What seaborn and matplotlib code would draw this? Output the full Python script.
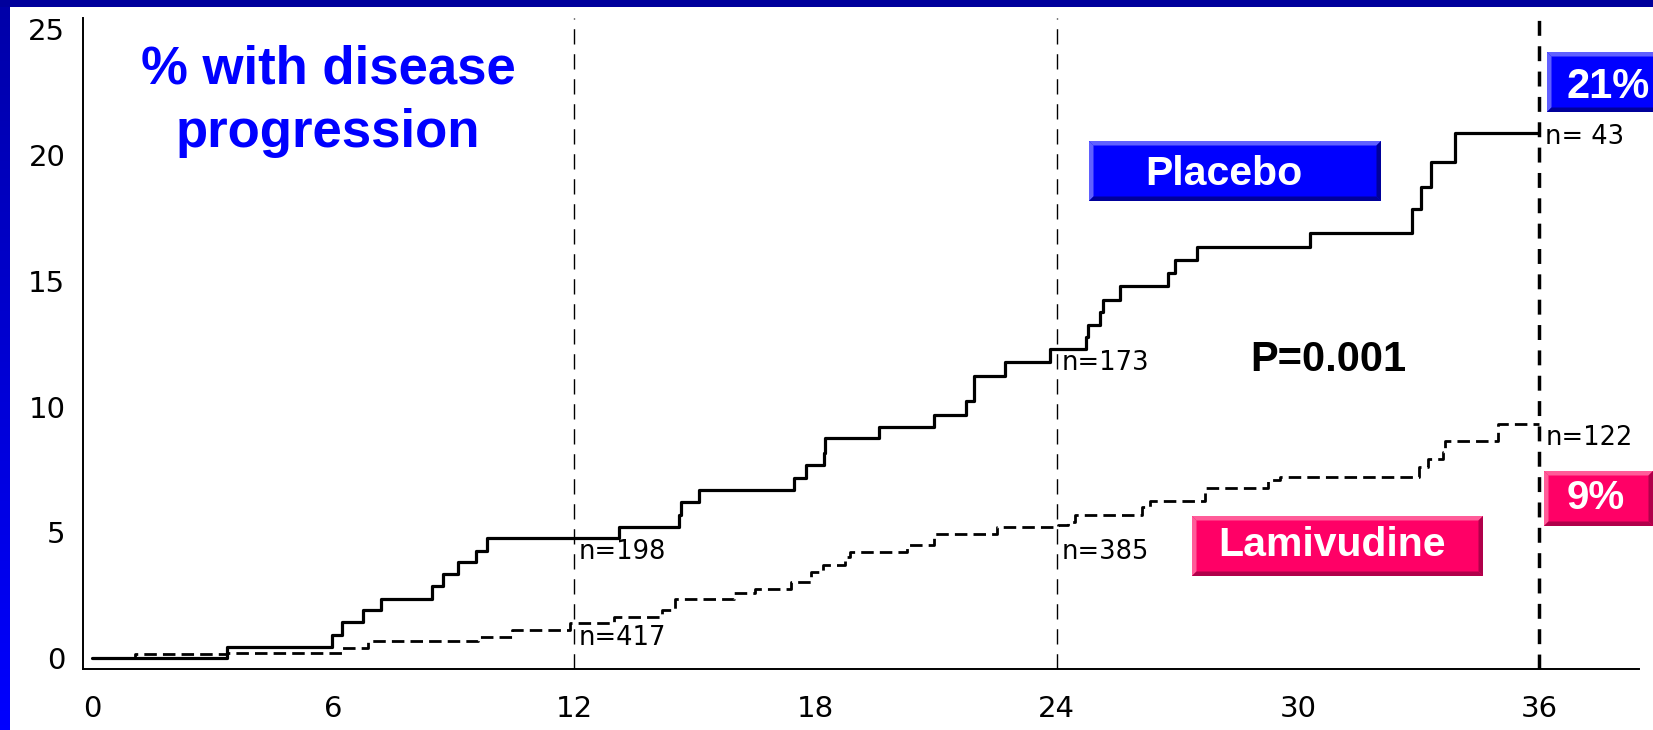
import numpy as np
import pandas as pd
import matplotlib
matplotlib.use("Agg")
import matplotlib.pyplot as plt
import seaborn as sns
from matplotlib.patches import Rectangle, Polygon
from matplotlib.colors import LinearSegmentedColormap

# ---------------- data ----------------
placebo_months = [0, 3.35, 5.96, 6.21, 6.75, 7.2, 8.47, 8.72, 9.1, 9.55, 9.83, 13.1,
                  14.6, 14.65, 15.09, 17.47, 17.76, 18.2, 18.24, 19.58, 20.94, 21.75,
                  21.93, 22.72, 23.83, 24.72, 24.78, 25.08, 25.15, 25.57, 26.77, 26.94,
                  27.48, 30.3, 32.83, 33.07, 33.3, 33.9, 36]
placebo_pct = [0, 0.45, 0.93, 1.42, 1.92, 2.35, 2.88, 3.34, 3.83, 4.27, 4.77, 5.22,
               5.68, 6.2, 6.67, 7.16, 7.69, 8.15, 8.76, 9.19, 9.68, 10.2,
               11.2, 11.77, 12.3, 12.76, 13.26, 13.75, 14.24, 14.81, 15.3, 15.83,
               16.36, 16.89, 17.86, 18.74, 19.74, 20.86, 20.86]

lam_months = [0, 1.07, 3.35, 6.23, 6.87, 9.61, 10.44, 11.9, 12.99, 14.19, 14.5, 15.97,
              16.5, 17.39, 17.88, 18.19, 18.72, 18.85, 20.28, 20.94, 22.5, 24.04, 24.28,
              24.46, 26.13, 26.31, 27.69, 29.24, 29.54, 33.0, 33.24, 33.6, 33.65, 34.97, 36]
lam_pct = [0, 0.15, 0.2, 0.38, 0.67, 0.85, 1.11, 1.38, 1.64, 1.9, 2.33, 2.57,
           2.74, 3.03, 3.43, 3.69, 4.02, 4.22, 4.49, 4.95, 5.21, 5.3, 5.41,
           5.68, 6.01, 6.25, 6.74, 7.07, 7.2, 7.6, 7.9, 8.19, 8.63, 9.32, 9.32]

x_ticks = [0, 6, 12, 18, 24, 30, 36]
y_ticks = [0, 5, 10, 15, 20, 25]
landmark_months = [12, 24, 36]
n_placebo = ["n=198", "n=173", "n= 43"]
n_lam = ["n=417", "n=385", "n=122"]
title_lines = ["% with disease", "progression"]
p_text = "P=0.001"
arm_labels = ["Placebo", "Lamivudine"]
final_labels = ["21%", "9%"]

# ---------------- figure ----------------
sns.set_style("white")
plt.rcParams["font.family"] = ["DejaVu Sans"]

W, H = 1653, 730
fig = plt.figure(figsize=(W / 100, H / 100), dpi=100, facecolor="white")

ax_l, ax_r, ax_t, ax_b = 82.7, 1639, 18, 669.3
ax = fig.add_axes([ax_l / W, (H - ax_b) / H, (ax_r - ax_l) / W, (ax_b - ax_t) / H])
ax.set_facecolor("white")

df_p = pd.DataFrame({"month": placebo_months, "pct": placebo_pct})
df_l = pd.DataFrame({"month": lam_months, "pct": lam_pct})

sns.lineplot(data=df_p, x="month", y="pct", ax=ax, color="black", lw=2.3,
             drawstyle="steps-post", estimator=None, sort=False, legend=False, zorder=4)
sns.lineplot(data=df_l, x="month", y="pct", ax=ax, color="black", lw=2.0,
             drawstyle="steps-post", estimator=None, sort=False, legend=False, zorder=4,
             dashes=False)
ax.lines[-1].set_linestyle((0, (4.5, 2.2)))

for m in landmark_months:
    if m == 36:
        ax.axvline(m, color="black", lw=2.5, linestyle=(0, (4.3, 3.0)), zorder=3)
    else:
        ax.axvline(m, color="black", lw=1.0, linestyle=(0, (11, 7)), zorder=3)

ax.set_xlim(-0.23, 38.48)
ax.set_ylim(-0.45, 25.45)
ax.set_xticks(x_ticks)
ax.set_yticks(y_ticks)
ax.set_xlabel("")
ax.set_ylabel("")
for s in ["top", "right"]:
    ax.spines[s].set_visible(False)
for s in ["left", "bottom"]:
    ax.spines[s].set_color("black")
    ax.spines[s].set_linewidth(1.4)
ax.tick_params(axis="x", direction="out", length=7.5, width=1.4, labelsize=21, pad=11,
               colors="black")
ax.tick_params(axis="y", direction="out", length=6.5, width=1.4, labelsize=21, pad=6,
               colors="black")
ax.grid(False)

# n-at-risk labels
n_pos_p = [(12.1, 4.21), (24.12, 11.72), (36.15, 20.7)]
n_pos_l = [(12.1, 0.78), (24.12, 4.22), (36.15, 8.73)]
for lab, (x, y) in zip(n_placebo, n_pos_p):
    ax.text(x, y, lab, fontsize=18.5, ha="left", va="center", color="black", zorder=6)
for lab, (x, y) in zip(n_lam, n_pos_l):
    ax.text(x, y, lab, fontsize=18.5, ha="left", va="center", color="black", zorder=6)

# ---------------- overlay in pixel coords ----------------
ov = fig.add_axes([0, 0, 1, 1], zorder=10)
ov.patch.set_alpha(0)
ov.axis("off")

cmap = LinearSegmentedColormap.from_list("band", ["#0000A8", "#0000FF"])
ov.imshow(np.linspace(0, 1, 200).reshape(-1, 1), extent=(0, 10, H, 0), cmap=cmap,
          aspect="auto", interpolation="bilinear")
ov.add_patch(Rectangle((0, 0), W, 7, facecolor="#00009C", edgecolor="none"))
ov.set_xlim(0, W)
ov.set_ylim(H, 0)


def bevel_box(x0, y0, x1, y1, face, light, dark, bw=4.5):
    ov.add_patch(Rectangle((x0, y0), x1 - x0, y1 - y0, facecolor=face, edgecolor="none"))
    ov.add_patch(Polygon([(x0, y0), (x1, y0), (x1 - bw, y0 + bw), (x0 + bw, y0 + bw)],
                         facecolor=light, edgecolor="none"))
    ov.add_patch(Polygon([(x0, y0), (x0 + bw, y0 + bw), (x0 + bw, y1 - bw), (x0, y1)],
                         facecolor=light, edgecolor="none"))
    ov.add_patch(Polygon([(x0, y1), (x0 + bw, y1 - bw), (x1 - bw, y1 - bw), (x1, y1)],
                         facecolor=dark, edgecolor="none"))
    ov.add_patch(Polygon([(x1, y0), (x1, y1), (x1 - bw, y1 - bw), (x1 - bw, y0 + bw)],
                         facecolor=dark, edgecolor="none"))


BLUE, BLUE_L, BLUE_D = "#0000FF", "#6060FF", "#00009A"
PINK, PINK_L, PINK_D = "#FF0066", "#FF5C99", "#B0004A"
bold = dict(family=["Liberation Sans", "DejaVu Sans"], fontweight="bold")

bevel_box(1089, 141, 1381, 201, BLUE, BLUE_L, BLUE_D)
ov.text(1224, 185, arm_labels[0], color="white", fontsize=29.5, ha="center", va="baseline", **bold)

bevel_box(1547, 52, 1668, 112, BLUE, BLUE_L, BLUE_D)
ov.text(1567, 98, final_labels[0], color="white", fontsize=30, ha="left", va="baseline", **bold)

bevel_box(1192, 516, 1483, 576, PINK, PINK_L, PINK_D)
ov.text(1332, 556, arm_labels[1], color="white", fontsize=29.5, ha="center", va="baseline", **bold)

bevel_box(1544, 471, 1653, 526, PINK, PINK_L, PINK_D)
ov.text(1567, 509, final_labels[1], color="white", fontsize=29, ha="left", va="baseline", **bold)

ov.text(328, 83, title_lines[0], color="#0000FF", fontsize=38, ha="center", va="baseline", **bold)
ov.text(328, 146.5, title_lines[1], color="#0000FF", fontsize=38, ha="center", va="baseline", **bold)
ov.text(1328, 371, p_text, color="black", fontsize=30, ha="center", va="baseline", **bold)

fig.savefig("out.png", dpi=100, facecolor="white")
